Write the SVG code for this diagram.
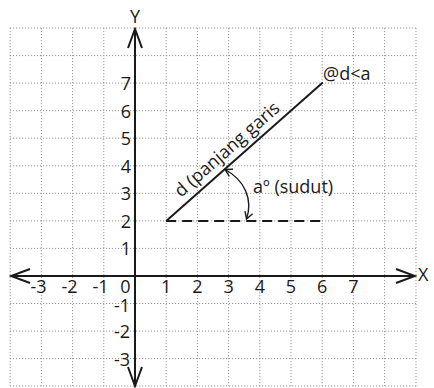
<svg xmlns="http://www.w3.org/2000/svg" width="434" height="388" viewBox="0 0 434 388">
<style>
  .grid line { stroke: #999999; stroke-width: 1; stroke-dasharray: 1.2 1.8; }
  .axis { stroke: #1a1a1a; stroke-width: 2; fill: none; }
  .t { font-family: "Open Sans", "Noto Sans", sans-serif; font-size: 18px; fill: #1a1a1a; }
  .yl { text-anchor: end; }
  .xl { text-anchor: middle; }
  .xn { text-anchor: end; }
</style>
<defs>
  <marker id="big" markerUnits="userSpaceOnUse" viewBox="-21 -9 23 18" refX="0" refY="0" markerWidth="23" markerHeight="18" orient="auto-start-reverse">
    <path d="M-19,-7 L0,0 L-19,7" fill="none" stroke="#1a1a1a" stroke-width="2"/>
  </marker>
  <marker id="small" markerUnits="userSpaceOnUse" viewBox="-9 -6 11 12" refX="0" refY="0" markerWidth="11" markerHeight="12" orient="auto-start-reverse">
    <path d="M-7,-4 L0,0 L-7,4" fill="none" stroke="#1a1a1a" stroke-width="1.4"/>
  </marker>
</defs>
<rect width="434" height="388" fill="#ffffff"/>
<g id="grid" class="grid">
  <line x1="10.2" y1="28" x2="10.2" y2="386"/>
  <line x1="41.4" y1="28" x2="41.4" y2="386"/>
  <line x1="72.6" y1="28" x2="72.6" y2="386"/>
  <line x1="103.8" y1="28" x2="103.8" y2="386"/>
  <line x1="166.2" y1="28" x2="166.2" y2="386"/>
  <line x1="197.4" y1="28" x2="197.4" y2="386"/>
  <line x1="228.6" y1="28" x2="228.6" y2="386"/>
  <line x1="259.8" y1="28" x2="259.8" y2="386"/>
  <line x1="291" y1="28" x2="291" y2="386"/>
  <line x1="322.2" y1="28" x2="322.2" y2="386"/>
  <line x1="353.4" y1="28" x2="353.4" y2="386"/>
  <line x1="384.6" y1="28" x2="384.6" y2="386"/>
  <line x1="416" y1="28" x2="416" y2="386"/>
  <line x1="10" y1="28" x2="416" y2="28"/>
  <line x1="10" y1="55.6" x2="416" y2="55.6"/>
  <line x1="10" y1="83.1" x2="416" y2="83.1"/>
  <line x1="10" y1="110.7" x2="416" y2="110.7"/>
  <line x1="10" y1="138.2" x2="416" y2="138.2"/>
  <line x1="10" y1="165.8" x2="416" y2="165.8"/>
  <line x1="10" y1="193.3" x2="416" y2="193.3"/>
  <line x1="10" y1="220.9" x2="416" y2="220.9"/>
  <line x1="10" y1="248.4" x2="416" y2="248.4"/>
  <line x1="10" y1="303.5" x2="416" y2="303.5"/>
  <line x1="10" y1="331.1" x2="416" y2="331.1"/>
  <line x1="10" y1="358.6" x2="416" y2="358.6"/>
  <line x1="10" y1="386" x2="416" y2="386"/>
</g>
<g id="connectors">
  <line class="axis" x1="135" y1="29" x2="135" y2="386" marker-start="url(#big)" marker-end="url(#big)"/>
  <line class="axis" x1="11" y1="276" x2="415" y2="276" marker-start="url(#big)" marker-end="url(#big)"/>
  <line id="segment" x1="166.2" y1="220.9" x2="322.8" y2="82.5" stroke="#1a1a1a" stroke-width="2"/>
  <line id="baseline" x1="166.2" y1="220.9" x2="323" y2="220.9" stroke="#1a1a1a" stroke-width="2" stroke-dasharray="10 6"/>
  <path id="angle" d="M225,169.5 C245,180 253,200 246.5,219" fill="none" stroke="#1a1a1a" stroke-width="1.4" marker-start="url(#small)" marker-end="url(#small)"/>
</g>
<g id="axis-labels" class="t">
  <text x="135" y="23" text-anchor="middle">Y</text>
  <text x="418" y="281">X</text>
</g>
<g id="y-ticks" class="t yl">
  <text x="131" y="90">7</text>
  <text x="131" y="117.5">6</text>
  <text x="131" y="145">5</text>
  <text x="131" y="172.5">4</text>
  <text x="131" y="200">3</text>
  <text x="131" y="227.5">2</text>
  <text x="131" y="255">1</text>
  <text x="130.5" y="293">0</text>
  <text x="130" y="312">-1</text>
  <text x="130" y="338">-2</text>
  <text x="130" y="365.5">-3</text>
</g>
<g id="x-ticks" class="t">
  <text class="xn" x="46.5" y="293">-3</text>
  <text class="xn" x="77.5" y="293">-2</text>
  <text class="xn" x="108.5" y="293">-1</text>
  <text class="xl" x="166.2" y="293">1</text>
  <text class="xl" x="197.4" y="293">2</text>
  <text class="xl" x="228.6" y="293">3</text>
  <text class="xl" x="259.8" y="293">4</text>
  <text class="xl" x="291" y="293">5</text>
  <text class="xl" x="322.2" y="293">6</text>
  <text class="xl" x="353.4" y="293">7</text>
</g>
<g id="labels" class="t">
  <text x="323" y="80">@d&lt;a</text>
  <text x="253" y="193">aº (sudut)</text>
  <text transform="translate(181,198) rotate(-41.4)">d (panjang garis</text>
</g>
</svg>
